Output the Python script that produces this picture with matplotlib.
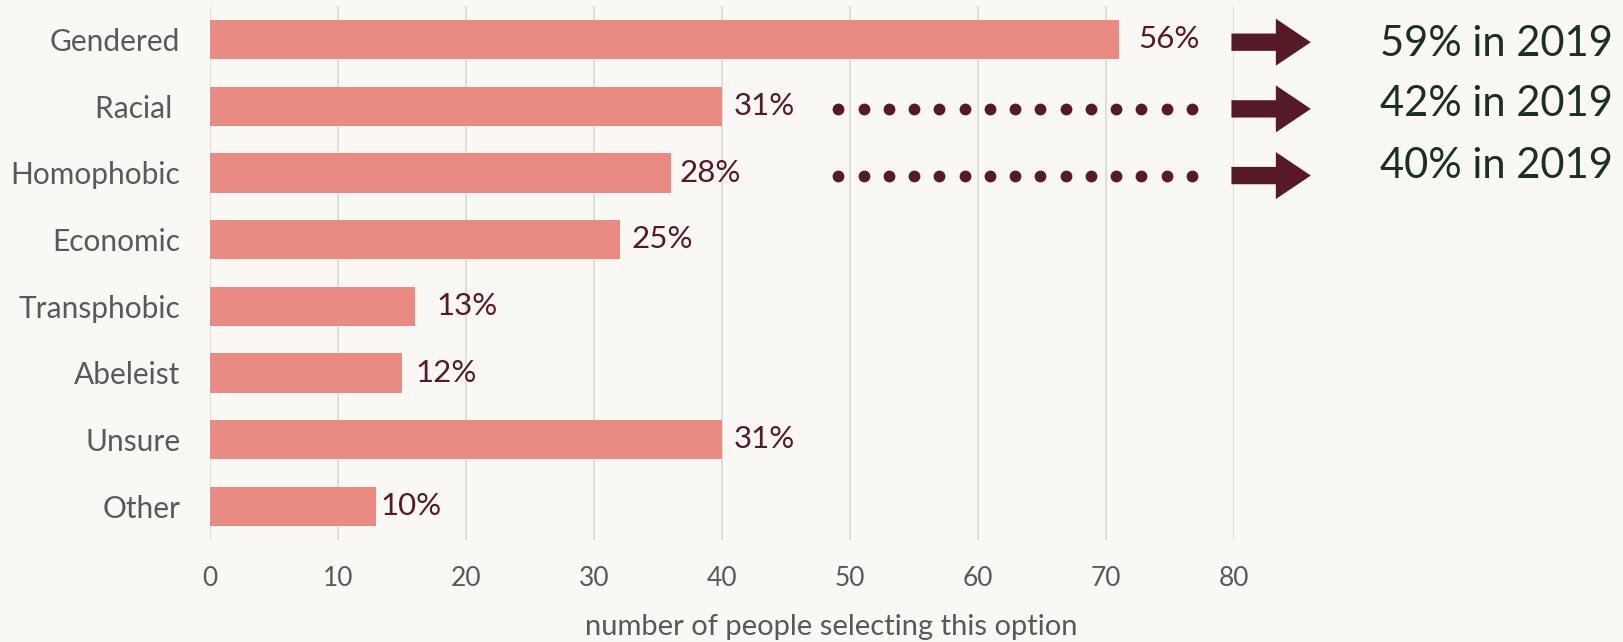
import numpy as np
import matplotlib.pyplot as plt
from matplotlib.patches import FancyArrow

# =============================================================================
# Data

categories = ["Gendered", "Racial ", "Homophobic", "Economic", "Transphobic",
              "Abeleist", "Unsure", "Other"]
counts = [71, 40, 36, 32, 16, 15, 40, 13]
pct_labels = ["56%", "31%", "28%", "25%", "13%", "12%", "31%", "10%"]

# 2019 comparison (row index -> text)
compare_rows = [0, 1, 2]
compare_labels = ["59% in 2019", "42% in 2019", "40% in 2019"]
dotted_rows = [1, 2]

# =============================================================================
# Style

BG = "#f9f8f4"
BAR = "#e98b82"
MAROON = "#561a27"
GREEN = "#1c3022"
GREY = "#595959"
GRID = "#dcdcdc"

# pixel gap between bar end and its % label (hand placed in the original)
label_gap = [19, 12, 9, 12, 22, 13, 12, 4]
# baseline of the 2019 texts, in row units
compare_base = [0.24, 1.14, 2.08]

plt.rcParams["font.family"] = ["Lato", "DejaVu Sans"]

fg = plt.figure(figsize=(16.23, 6.42), dpi=100, facecolor=BG)
ax = fg.add_axes([210 / 1623, 1 - 539.6 / 642, 1024 / 1623, (539.6 - 6.2) / 642])
ax.set_facecolor(BG)

y = np.arange(len(categories))
ax.barh(y, counts, height=0.59, color=BAR, zorder=2)

for yi, c, lab, gap in zip(y, counts, pct_labels, label_gap):
    ax.annotate(lab, (c, yi + 0.13), xytext=(gap, 0), textcoords="offset pixels",
                ha="left", va="baseline", fontsize=22.5, color=MAROON, zorder=3)

# dotted leaders
dot_x = np.linspace(49.1, 76.7, 15)
for r in dotted_rows:
    ax.plot(dot_x, np.full_like(dot_x, r + 0.045), "o", color=MAROON, ms=8.5,
            mew=0, zorder=3, clip_on=False)

# arrows + 2019 text
for r, txt, yb in zip(compare_rows, compare_labels, compare_base):
    arr = FancyArrow(79.8, r + 0.04, 6.2, 0, width=0.26, head_width=0.705,
                     head_length=2.73, length_includes_head=True,
                     color=MAROON, lw=0, clip_on=False, zorder=3)
    ax.add_patch(arr)
    ax.text(91.4, yb, txt, fontsize=30, color=GREEN, va="baseline")

ax.set_xlim(0, 80)
ax.set_ylim(7.5, -0.5)
ax.set_xticks(np.arange(0, 81, 10))
ax.set_yticks(y)
ax.set_yticklabels(categories)
ax.grid(axis="x", color=GRID, lw=1.3, zorder=0)
ax.grid(axis="y", visible=False)
for s in ax.spines.values():
    s.set_visible(False)
ax.tick_params(axis="x", length=0, pad=19, labelsize=19, labelcolor=GREY)
ax.tick_params(axis="y", length=0, pad=21.5, labelsize=21.5, labelcolor=GREY)

ax.set_xlabel("number of people selecting this option", fontsize=21, color=GREY)
ax.xaxis.set_label_coords(0.607, -0.14)

fg.savefig("out.png", dpi=100, facecolor=BG)
